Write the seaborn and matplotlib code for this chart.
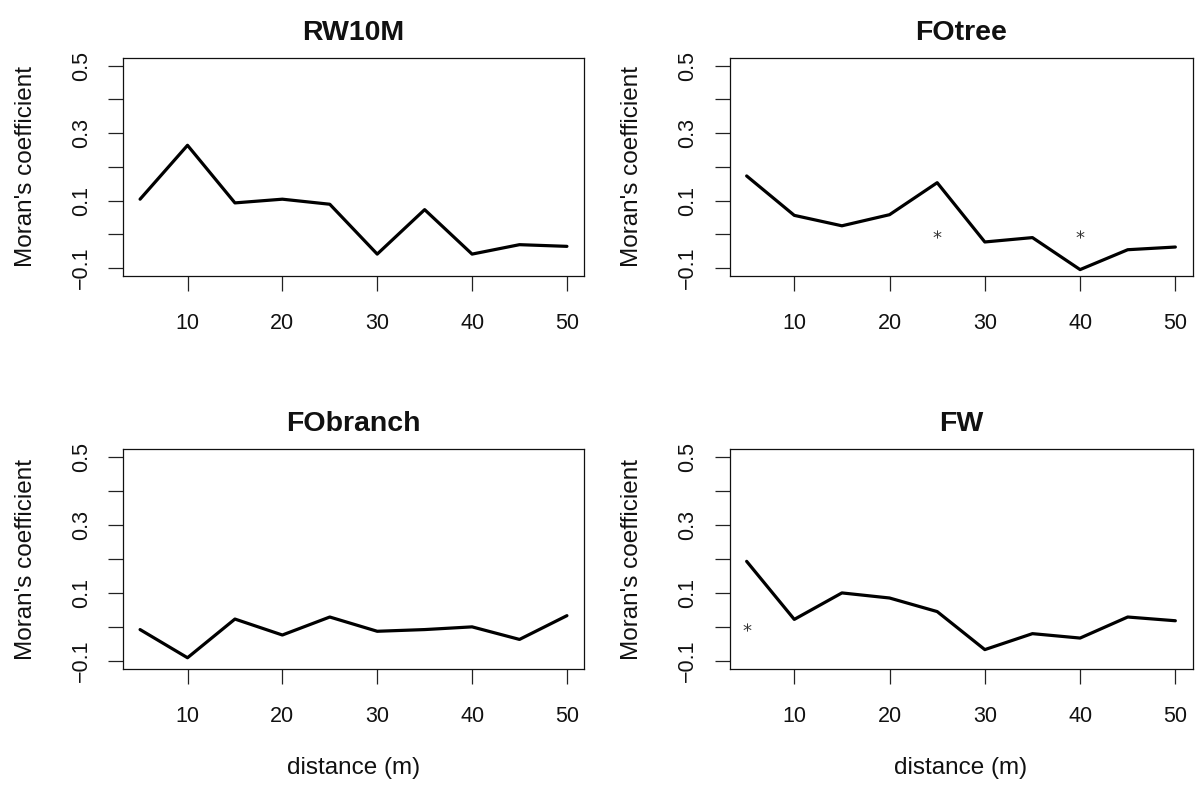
import numpy as np
import pandas as pd
import matplotlib
matplotlib.use("Agg")
import matplotlib.pyplot as plt
import seaborn as sns

# distance classes (m)
distance = [5, 10, 15, 20, 25, 30, 35, 40, 45, 50]

# Moran's coefficient per variable
rw10m = [0.104, 0.264, 0.093, 0.104, 0.089, -0.059, 0.073, -0.059, -0.031, -0.036]
fotree = [0.173, 0.056, 0.025, 0.058, 0.153, -0.023, -0.010, -0.105, -0.046, -0.038]
fobranch = [-0.007, -0.090, 0.024, -0.023, 0.030, -0.012, -0.007, 0.001, -0.036, 0.034]
fw = [0.194, 0.023, 0.101, 0.086, 0.046, -0.066, -0.019, -0.032, 0.030, 0.019]

# significant lags marked with an asterisk (drawn at y = 0)
rw10m_sig = []
fotree_sig = [25, 40]
fobranch_sig = []
fw_sig = [5]

titles = ["RW10M", "FOtree", "FObranch", "FW"]
series = [rw10m, fotree, fobranch, fw]
signif = [rw10m_sig, fotree_sig, fobranch_sig, fw_sig]

yticks = [-0.1, 0.0, 0.1, 0.2, 0.3, 0.4, 0.5]
ytick_labels = ["\u22120.1", "", "0.1", "", "0.3", "", "0.5"]
xticks = [10, 20, 30, 40, 50]

sns.set_theme(style="ticks")
plt.rcParams["font.family"] = ["Liberation Sans", "DejaVu Sans"]

W, H = 1196, 785
fig = plt.figure(figsize=(W / 100, H / 100), dpi=100)

# panel frames in pixels: left, right, top, bottom
frames = [
    (123, 584, 57.7, 276),
    (729.5, 1192.5, 57.7, 276),
    (123, 584, 449.3, 669.3),
    (729.5, 1192.5, 449.3, 669.3),
]

for i, (title, vals, sig, fr) in enumerate(zip(titles, series, signif, frames)):
    l, r, t, b = fr
    ax = fig.add_axes([l / W, (H - b) / H, (r - l) / W, (b - t) / H])
    df = pd.DataFrame({"distance": distance, "moran": vals})
    sns.lineplot(data=df, x="distance", y="moran", ax=ax, color="black",
                 linewidth=2.3, estimator=None)
    if sig:
        sdf = pd.DataFrame({"distance": sig, "y": [0.0] * len(sig)})
        sns.scatterplot(data=sdf, x="distance", y="y", ax=ax, marker="$*$",
                        s=35, color="#333333", linewidth=0)

    ax.set_xlim(3.2, 51.8)
    ax.set_ylim(-0.124, 0.524)
    ax.set_xticks(xticks)
    ax.set_xticklabels([str(v) for v in xticks])
    ax.set_yticks(yticks)
    ax.set_yticklabels(ytick_labels, rotation=90, va="center")
    ax.tick_params(axis="both", direction="out", length=11, width=0.9,
                   color="#222222", labelsize=15.5, labelcolor="#111111",
                   bottom=True, left=True)
    ax.tick_params(axis="x", pad=15.4)
    ax.tick_params(axis="y", pad=11.4)
    for sp in ax.spines.values():
        sp.set_visible(True)
        sp.set_color("#111111")
        sp.set_linewidth(0.9)
    ax.set_title(title, fontsize=20.5, fontweight="bold", pad=13, color="#111111")
    ax.set_ylabel("Moran's coefficient", fontsize=17.5, color="#111111")
    ax.yaxis.set_label_coords(-0.186, 0.5)
    if i >= 2:
        ax.set_xlabel("distance (m)", fontsize=17.5, color="#111111")
        ax.xaxis.set_label_coords(0.5, -0.399)
    else:
        ax.set_xlabel("")

fig.savefig("out.png", dpi=100)
